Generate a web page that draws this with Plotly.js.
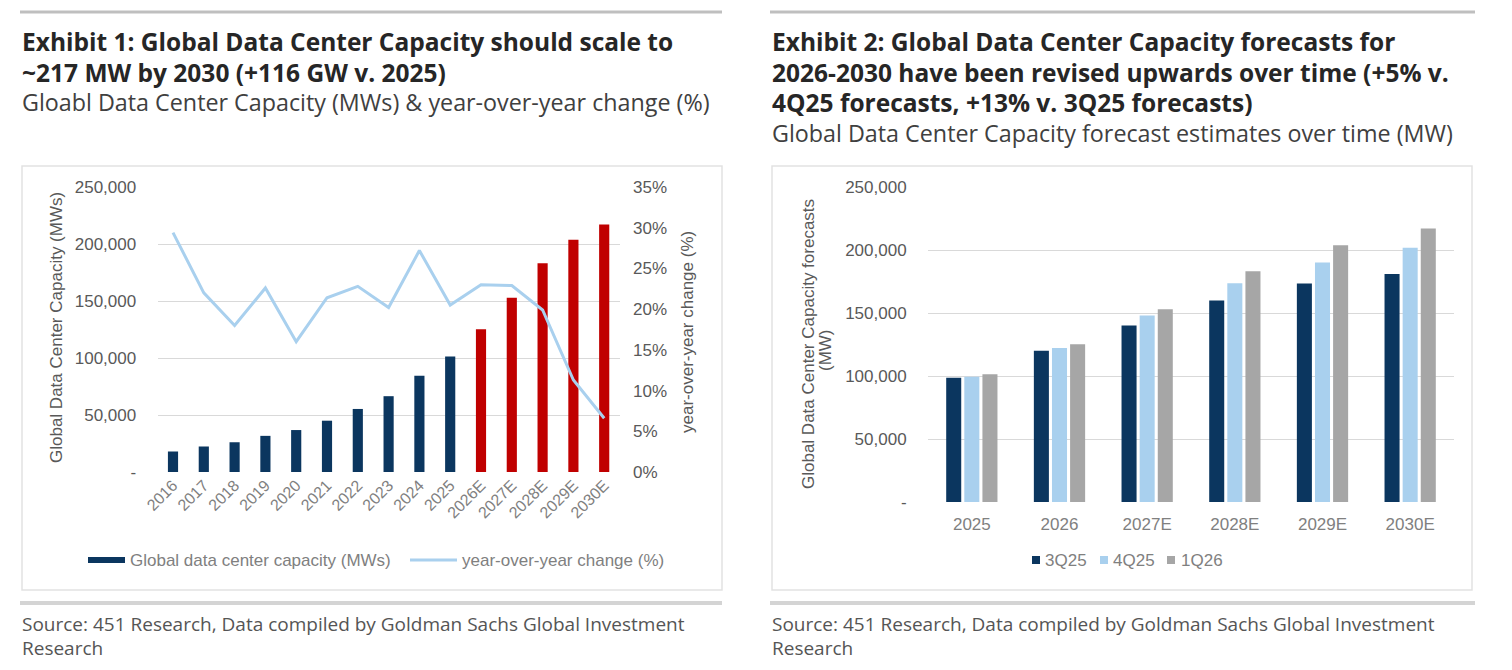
<!DOCTYPE html>
<html>
<head>
<meta charset="utf-8">
<script src="https://cdn.plot.ly/plotly-3.0.1.min.js"></script>
<style>
  html, body { margin: 0; padding: 0; background: #ffffff; }
  #chart { width: 1512px; height: 670px; }
</style>
</head>
<body>
<div id="chart"></div>
<script>
// ---- Exhibit 1: global data center capacity and year-over-year change ----
const yearsA = ['2016', '2017', '2018', '2019', '2020', '2021', '2022', '2023', '2024', '2025',
                '2026E', '2027E', '2028E', '2029E', '2030E'];
const capacityMW = [18000, 22400, 26200, 31700, 36800, 45000, 55300, 66500, 84400, 101400,
                    125200, 152800, 183200, 203700, 217000];
const yoyChange = [0.294, 0.220, 0.180, 0.226, 0.160, 0.214, 0.228, 0.202, 0.272, 0.205,
                   0.230, 0.229, 0.199, 0.113, 0.066];

// ---- Exhibit 2: forecast vintages ----
const yearsB = ['2025', '2026', '2027E', '2028E', '2029E', '2030E'];
const seriesNames = ['3Q25', '4Q25', '1Q26'];
const forecast3Q25 = [98700, 120000, 140000, 160000, 173500, 181000];
const forecast4Q25 = [99500, 122300, 148000, 173700, 190000, 201800];
const forecast1Q26 = [101400, 125200, 153000, 183200, 203700, 217000];

// ---- Axis ticks ----
const capTickVals = [0, 50000, 100000, 150000, 200000, 250000];
const capTickText = ['-', '50,000', '100,000', '150,000', '200,000', '250,000'];
const pctTickVals = [0, 0.05, 0.10, 0.15, 0.20, 0.25, 0.30, 0.35];

// ---- Styling ----
const NAVY = '#0b365f';
const RED = '#c00000';
const LIGHT_BLUE = '#a9d0ee';
const GREY_BAR = '#a6a6a6';
const TICK_COLOR = '#595959';
const SOFT_TEXT = '#808080';
const GRID = '#d9d9d9';
const TITLE_FONT = '"Open Sans", Lato, sans-serif';
const AXIS_FONT = '"Liberation Sans", Arial, sans-serif';

const W = 1512, H = 670;
const px = x => x / W;
const py = y => 1 - y / H;

const barColors = yearsA.map(y => (y.endsWith('E') ? RED : NAVY));

const traces = [
  {
    type: 'bar', x: yearsA, y: capacityMW, xaxis: 'x', yaxis: 'y',
    marker: { color: barColors }, width: 0.33, showlegend: false,
    name: 'Global data center capacity (MWs)'
  },
  {
    type: 'scatter', mode: 'lines', x: yearsA, y: yoyChange, xaxis: 'x', yaxis: 'y2',
    line: { color: LIGHT_BLUE, width: 3 }, showlegend: false,
    name: 'year-over-year change (%)'
  },
  {
    type: 'bar', x: yearsB, y: forecast3Q25, xaxis: 'x3', yaxis: 'y3',
    marker: { color: NAVY }, name: seriesNames[0], showlegend: false
  },
  {
    type: 'bar', x: yearsB, y: forecast4Q25, xaxis: 'x3', yaxis: 'y3',
    marker: { color: LIGHT_BLUE }, name: seriesNames[1], showlegend: false
  },
  {
    type: 'bar', x: yearsB, y: forecast1Q26, xaxis: 'x3', yaxis: 'y3',
    marker: { color: GREY_BAR }, name: seriesNames[2], showlegend: false
  }
];

const tickFont = { family: AXIS_FONT, size: 17, color: TICK_COLOR };
const headFont = { family: TITLE_FONT, size: 24.5, color: '#262626', weight: 700 };
const subFont = { family: TITLE_FONT, size: 23.3, color: '#404040' };
const srcFont = { family: TITLE_FONT, size: 19, color: '#555555' };
const axisTitleFont = { family: AXIS_FONT, size: 17, color: TICK_COLOR };
const legendFont = { family: AXIS_FONT, size: 17, color: SOFT_TEXT };

function text(x, y, str, font, opts) {
  return Object.assign({
    xref: 'paper', yref: 'paper', x: px(x), y: py(y), text: str,
    showarrow: false, xanchor: 'left', yanchor: 'middle', font: font
  }, opts || {});
}

const annotations = [
  // headings
  text(20, 42, '<b>Exhibit 1: Global Data Center Capacity should scale to</b>', headFont),
  text(20, 73, '<b>~217 MW by 2030 (+116 GW v. 2025)</b>', headFont),
  text(20, 102, 'Gloabl Data Center Capacity (MWs) &amp; year-over-year change (%)', subFont),
  text(770, 41, '<b>Exhibit 2: Global Data Center Capacity forecasts for</b>', headFont),
  text(770, 72, '<b>2026-2030 have been revised upwards over time (+5% v.</b>', headFont),
  text(770, 103, '<b>4Q25 forecasts, +13% v. 3Q25 forecasts)</b>', headFont),
  text(770, 133, 'Global Data Center Capacity forecast estimates over time (MW)', subFont),

  // axis titles
  text(57, 328, 'Global Data Center Capacity (MWs)', axisTitleFont, { xanchor: 'center', textangle: -90 }),
  text(687, 332, 'year-over-year change (%)', axisTitleFont, { xanchor: 'center', textangle: -90 }),
  text(808, 344, 'Global Data Center Capacity forecasts', axisTitleFont, { xanchor: 'center', textangle: -90 }),
  text(826, 350, '(MW)', axisTitleFont, { xanchor: 'center', textangle: -90 }),

  // legend labels
  text(128, 560, 'Global data center capacity (MWs)', legendFont),
  text(460, 560, 'year-over-year change (%)', legendFont),
  text(1043, 560, seriesNames[0], legendFont),
  text(1111, 560, seriesNames[1], legendFont),
  text(1179, 560, seriesNames[2], legendFont),

  // sources
  text(20, 624, 'Source: 451 Research, Data compiled by Goldman Sachs Global Investment', srcFont),
  text(20, 648, 'Research', srcFont),
  text(770, 624, 'Source: 451 Research, Data compiled by Goldman Sachs Global Investment', srcFont),
  text(770, 648, 'Research', srcFont)
];

function rect(x0, y0, x1, y1, style) {
  return Object.assign({ type: 'rect', xref: 'paper', yref: 'paper', x0: px(x0), x1: px(x1), y0: py(y1), y1: py(y0), layer: 'below' }, style);
}
function hline(x0, x1, y, color, width) {
  return { type: 'line', xref: 'paper', yref: 'paper', x0: px(x0), x1: px(x1), y0: py(y), y1: py(y), line: { color: color, width: width } };
}

const shapes = [
  hline(20, 722, 12, '#bfbfbf', 3),
  hline(770, 1475, 12, '#bfbfbf', 3),
  hline(20, 722, 603, '#d4d4d4', 4),
  hline(770, 1475, 603, '#d4d4d4', 4),
  rect(22, 166, 722, 590, { line: { color: '#e2e2e2', width: 1.5 }, fillcolor: 'rgba(0,0,0,0)' }),
  rect(772, 166, 1472, 590, { line: { color: '#e2e2e2', width: 1.5 }, fillcolor: 'rgba(0,0,0,0)' }),
  // legend swatches
  rect(88, 557, 125, 563, { line: { width: 0 }, fillcolor: NAVY, layer: 'above' }),
  hline(410, 457, 560, LIGHT_BLUE, 3),
  rect(1032, 556, 1040, 564, { line: { width: 0 }, fillcolor: NAVY, layer: 'above' }),
  rect(1100, 556, 1108, 564, { line: { width: 0 }, fillcolor: LIGHT_BLUE, layer: 'above' }),
  rect(1167, 556, 1175, 564, { line: { width: 0 }, fillcolor: GREY_BAR, layer: 'above' })
];

const layout = {
  width: W, height: H,
  margin: { l: 0, r: 0, t: 0, b: 0 },
  paper_bgcolor: '#ffffff', plot_bgcolor: 'rgba(0,0,0,0)',
  barmode: 'group', bargap: 0.38, bargroupgap: 0.17,
  showlegend: false,
  xaxis: {
    domain: [px(157.6), px(619.6)], anchor: 'y', type: 'category',
    tickangle: -45, tickfont: { family: AXIS_FONT, size: 16, color: SOFT_TEXT },
    showgrid: false, zeroline: false, showline: false, ticks: ''
  },
  yaxis: {
    domain: [py(472), py(187)], anchor: 'x', range: [0, 250000],
    tickvals: capTickVals, ticktext: capTickText, tickfont: tickFont,
    ticks: 'outside', ticklen: 17, tickcolor: 'rgba(0,0,0,0)',
    showgrid: true, gridcolor: GRID, gridwidth: 1, zeroline: false, showline: false
  },
  yaxis2: {
    overlaying: 'y', side: 'right', anchor: 'x', range: [0, 0.35],
    tickvals: pctTickVals, tickformat: '.0%', tickfont: tickFont,
    ticks: 'outside', ticklen: 9, tickcolor: 'rgba(0,0,0,0)',
    showgrid: false, zeroline: false, showline: false
  },
  xaxis3: {
    domain: [px(928), px(1454)], anchor: 'y3', type: 'category',
    tickfont: { family: AXIS_FONT, size: 17, color: SOFT_TEXT },
    ticks: 'outside', ticklen: 7, tickcolor: 'rgba(0,0,0,0)',
    showgrid: false, zeroline: false, showline: false
  },
  yaxis3: {
    domain: [py(502), py(187)], anchor: 'x3', range: [0, 250000],
    tickvals: capTickVals, ticktext: capTickText, tickfont: tickFont,
    ticks: 'outside', ticklen: 17, tickcolor: 'rgba(0,0,0,0)',
    showgrid: true, gridcolor: GRID, gridwidth: 1, zeroline: false, showline: false
  },
  annotations: annotations,
  shapes: shapes
};

Plotly.newPlot('chart', traces, layout, { displayModeBar: false, staticPlot: true });
</script>
</body>
</html>
